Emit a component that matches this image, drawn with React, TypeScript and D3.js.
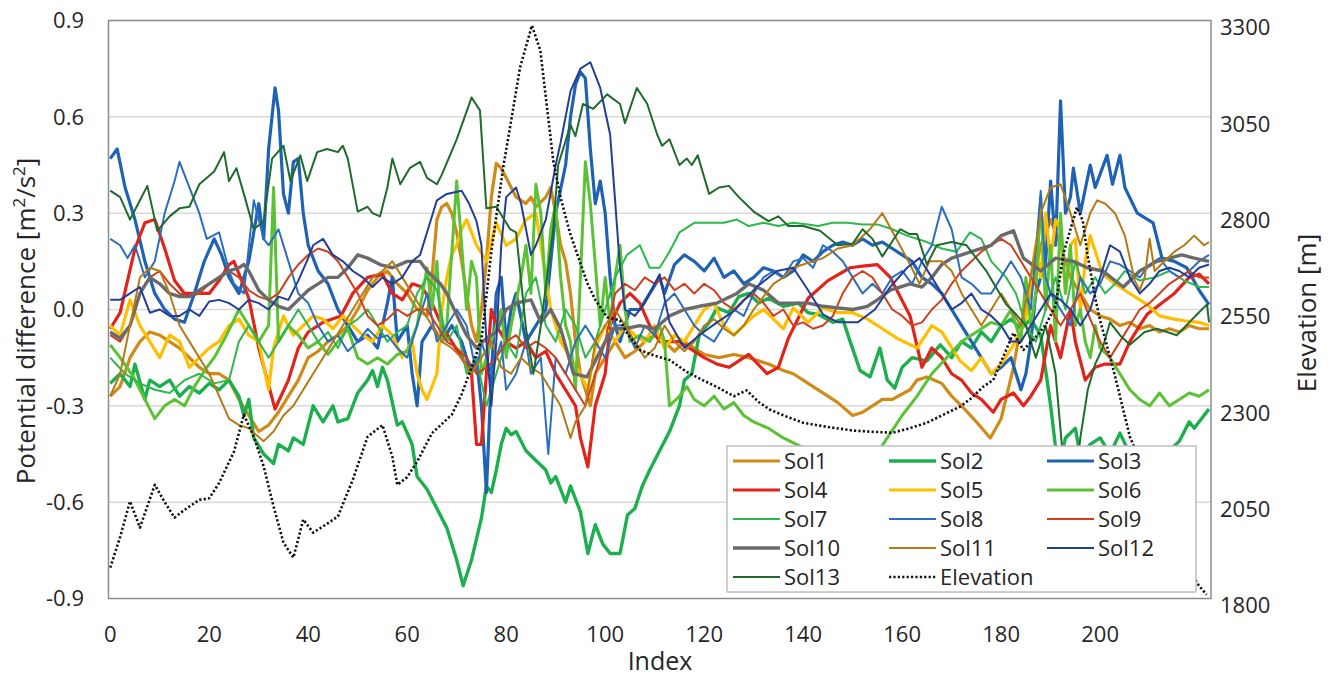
import React from "react";
import * as d3 from "d3";

type Pt = [number, number];

// Axes
const xTicks = [0, 20, 40, 60, 80, 100, 120, 140, 160, 180, 200];
const leftTicks = [-0.9, -0.6, -0.3, 0, 0.3, 0.6, 0.9];
const rightTicks = [1800, 2050, 2300, 2550, 2800, 3050, 3300];

const seriesNames = ["Sol1", "Sol2", "Sol3", "Sol4", "Sol5", "Sol6", "Sol7", "Sol8", "Sol9", "Sol10", "Sol11", "Sol12", "Sol13"];

// [index, potential difference]
const sol1: Pt[] = [[0,-0.27],[2,-0.24],[4,-0.15],[6,-0.1],[8,-0.07],[10,-0.08],[12,-0.1],[14,-0.12],[16,-0.15],[18,-0.18],[20,-0.2],[22,-0.2],[24,-0.22],[26,-0.28],[28,-0.33],[30,-0.38],[32,-0.36],[34,-0.32],[36,-0.27],[38,-0.22],[40,-0.15],[42,-0.13],[44,-0.1],[46,-0.08],[48,-0.05],[50,0],[52,0.06],[54,0.1],[56,0.12],[58,0.08],[60,0.05],[62,0],[64,-0.02],[65,0.1],[66,0.28],[67,0.32],[68,0.33],[69,0.3],[70,0.24],[71,0.15],[72,0.05],[73,-0.05],[74,-0.1],[75,0],[76,0.15],[77,0.35],[78,0.455],[79,0.44],[80,0.41],[82,0.35],[84,0.33],[85,0.35],[86,0.32],[88,0.35],[89,0.38],[90,0.3],[91,0.2],[92,0.15],[93,0.05],[94,-0.1],[95,-0.2],[96,-0.25],[97,-0.3],[98,-0.2],[100,-0.15],[102,-0.1],[104,-0.15],[106,-0.13],[108,-0.1],[110,-0.08],[112,-0.1],[114,-0.13],[116,-0.1],[118,-0.12],[120,-0.14],[123,-0.15],[126,-0.14],[129,-0.15],[131,-0.16],[133,-0.17],[136,-0.19],[138,-0.2],[140,-0.22],[142,-0.24],[145,-0.27],[147,-0.29],[150,-0.33],[152,-0.32],[154,-0.3],[156,-0.28],[158,-0.28],[161.6,-0.25],[163,-0.22],[165,-0.21],[168,-0.23],[170,-0.27],[172,-0.3],[175,-0.35],[177.8,-0.4],[180,-0.34],[182.5,-0.18],[184,-0.05],[186,0.05],[188,0.2],[190,0.28],[192,0.2],[194,0.1],[196,0.05],[198,0],[200,-0.02],[202,-0.03],[204,-0.05],[206,-0.04],[208,-0.06],[210,-0.05],[212,-0.07],[214,-0.06],[216,-0.07],[218,-0.05],[220,-0.06],[222,-0.06]];

const sol2: Pt[] = [[0,-0.23],[2,-0.2],[4,-0.24],[5,-0.17],[7,-0.28],[8,-0.22],[10,-0.24],[12,-0.22],[14,-0.27],[16,-0.24],[18,-0.26],[20,-0.23],[22,-0.25],[24,-0.22],[26,-0.27],[27,-0.33],[28,-0.28],[29,-0.4],[31,-0.45],[33,-0.48],[34,-0.42],[36,-0.44],[37,-0.4],[39,-0.42],[40,-0.36],[41,-0.3],[43,-0.35],[45,-0.3],[46,-0.35],[48,-0.34],[50,-0.26],[52,-0.22],[53,-0.19],[54,-0.24],[55,-0.18],[56,-0.22],[58,-0.36],[59,-0.35],[61,-0.42],[62,-0.52],[64,-0.56],[66,-0.62],[68,-0.68],[70,-0.78],[71.3,-0.86],[73,-0.78],[75,-0.65],[76,-0.55],[77,-0.57],[78,-0.5],[79,-0.42],[80,-0.37],[81,-0.39],[82,-0.38],[84,-0.44],[86,-0.47],[88,-0.5],[89,-0.54],[90,-0.52],[92,-0.6],[93,-0.55],[95,-0.63],[96.5,-0.76],[98,-0.67],[99.5,-0.73],[101,-0.76],[103,-0.76],[104.5,-0.64],[106,-0.62],[107.5,-0.55],[109,-0.5],[111,-0.44],[113,-0.38],[115,-0.3],[116,-0.22],[117.5,-0.2],[119,-0.08],[121,-0.04],[122.6,0.005],[125,-0.01],[127,0.04],[129,0.05],[131,0.02],[133,0.035],[136,0.01],[139,0.02],[141,-0.01],[143,-0.015],[146,-0.04],[148,-0.03],[149.5,-0.1],[151.5,-0.19],[153.5,-0.21],[155.5,-0.12],[157,-0.22],[158.5,-0.245],[160,-0.18],[162,-0.15],[165,-0.16],[167.7,-0.11],[170,-0.15],[172,-0.1],[174,-0.12],[176,-0.07],[178,-0.1],[180,-0.05],[182,-0.03],[184,-0.06],[186,-0.03],[188,-0.08],[190,-0.3],[191,-0.43],[192,-0.47],[193,-0.4],[195,-0.37],[196,-0.46],[198,-0.42],[200,-0.4],[202,-0.45],[204,-0.385],[206,-0.45],[208,-0.48],[210,-0.5],[212,-0.46],[214,-0.44],[216,-0.41],[218,-0.35],[219,-0.37],[222,-0.31]];

const sol3: Pt[] = [[0,0.47],[1.4,0.5],[3,0.38],[5,0.28],[7,0.15],[9,0.05],[11,0],[13,-0.03],[15,-0.04],[17,0.05],[19,0.15],[21,0.22],[22.5,0.17],[24,0.1],[26,0.05],[28,0.15],[30,0.33],[31,0.22],[32,0.5],[33.3,0.69],[34,0.62],[35,0.36],[36,0.3],[37,0.46],[38,0.47],[39,0.3],[40,0.2],[42,0.12],[44,0.08],[46,0],[48,-0.05],[50,-0.1],[52,-0.08],[54,-0.12],[56,0.02],[57,0.1],[58,-0.1],[60,-0.05],[61,-0.2],[62,-0.3],[63,-0.1],[65,-0.05],[67,-0.1],[69,-0.05],[71,-0.1],[73,-0.2],[74,-0.15],[75,-0.3],[76,-0.57],[77,-0.2],[78,0.05],[79,0.1],[80,-0.1],[81,0],[82,0.05],[84,-0.1],[86,-0.05],[88,0],[90,0.3],[92,0.45],[93,0.6],[94,0.7],[95,0.74],[96,0.72],[97,0.5],[98,0.33],[99,0.4],[100,0.3],[101,0.1],[102,-0.05],[103,-0.1],[105,0],[107,0],[109,0.05],[111,0.1],[112,0.05],[114,0.14],[116,0.17],[118,0.15],[120,0.12],[122,0.16],[124,0.1],[126,0.12],[128,0.08],[130,0.1],[132,0.13],[134,0.12],[136,0.1],[138,0.12],[140,0.17],[142,0.15],[144,0.18],[146,0.2],[148,0.21],[150,0.2],[152,0.22],[154,0.2],[156,0.21],[158,0.19],[160,0.17],[162,0.15],[164,0.1],[166,0.08],[168,0.05],[170,0],[172,-0.05],[174,-0.1],[176,-0.15],[178,-0.2],[180,-0.18],[182,-0.15],[184,-0.25],[185,-0.2],[186,-0.1],[187,0.05],[189,0.15],[190,0.4],[191,0.2],[192,0.65],[193,0.3],[194,0.35],[194.6,0.44],[196,0.3],[198,0.45],[199,0.38],[201.4,0.48],[202.5,0.39],[204,0.48],[205,0.38],[207.5,0.3],[210.7,0.27],[212.5,0.16],[215,0.15],[217.5,0.13],[220,0.06],[222,0.015]];

const sol4: Pt[] = [[0,-0.06],[2,-0.01],[5,0.19],[7,0.27],[9,0.28],[11,0.19],[13,0.09],[15,0.05],[17,0.05],[20,0.05],[22,0.09],[24,0.14],[25,0.15],[28,0.035],[30,-0.12],[33.3,-0.31],[36,-0.22],[38,-0.12],[40,-0.07],[43,-0.04],[46.6,-0.02],[49,0.05],[52,0.1],[55,0.11],[57,0.05],[59,0.03],[61,0.08],[63,0.07],[65,0.02],[67,-0.05],[69,-0.1],[71,-0.15],[73,-0.2],[74,-0.42],[75,-0.42],[76,-0.2],[77,0],[78,-0.05],[80,-0.1],[82,-0.12],[84,-0.1],[86,-0.15],[88,-0.13],[90,-0.2],[92,-0.25],[94,-0.3],[95,-0.4],[96.5,-0.49],[98,-0.3],[100,-0.2],[101,-0.05],[103,0.02],[105,0.05],[107,0.02],[109,-0.05],[111,-0.1],[113,-0.1],[115,-0.1],[117,-0.12],[120,-0.15],[122.6,-0.17],[125,-0.18],[127,-0.16],[129,-0.14],[132.7,-0.2],[135,-0.18],[137,-0.09],[141,0.035],[145,0.09],[149.5,0.13],[152,0.135],[155,0.14],[157.6,0.1],[161.6,-0.02],[164,-0.18],[166,-0.12],[168,-0.15],[170,-0.2],[172,-0.22],[174,-0.26],[176,-0.28],[178.4,-0.32],[180,-0.28],[182.5,-0.26],[184.5,-0.3],[186,-0.27],[188,-0.22],[190,-0.05],[192,-0.15],[194,0],[195,-0.1],[197,-0.22],[199,-0.18],[201,-0.17],[204,-0.17],[206,-0.1],[208,-0.05],[209.5,-0.015],[212,0.015],[215,0.05],[218,0.1],[220,0.11],[222,0.08]];

const sol5: Pt[] = [[0,-0.05],[2,-0.08],[4,0.03],[6,-0.05],[8,-0.1],[10,-0.15],[12,-0.08],[14,-0.1],[16,-0.18],[18,-0.15],[20,-0.12],[22,-0.1],[24,-0.05],[26,-0.03],[28,-0.08],[30,-0.1],[32,-0.25],[33,-0.12],[35,-0.02],[37,-0.08],[39,-0.05],[41,-0.02],[43,-0.03],[45,-0.06],[47,-0.02],[49,-0.05],[51,-0.08],[53,-0.1],[55,-0.05],[57,-0.08],[59,-0.15],[61,-0.1],[62,-0.2],[63,-0.25],[64,-0.28],[66,-0.2],[67,0],[68,0.1],[69,0.17],[70,0.2],[71,0.25],[72,0.28],[74,0.2],[76,0.15],[78,0.27],[80,0.2],[82,0.22],[84,0.28],[86,0.3],[88,0.1],[89,0],[91,-0.1],[93,-0.15],[95,-0.2],[96.5,-0.25],[98,-0.12],[100,-0.05],[102,-0.1],[104,-0.05],[106,-0.08],[108,-0.1],[110,-0.05],[112,-0.12],[114,-0.08],[116,-0.1],[118,-0.05],[120,0],[122,0.02],[124,-0.05],[126,-0.08],[128,-0.05],[130,-0.02],[132,0],[134,-0.03],[136,-0.06],[138,0.005],[141,-0.04],[144,0.005],[147,-0.01],[150,-0.01],[153,-0.03],[156,-0.06],[159,-0.09],[163,-0.12],[166,-0.05],[168,-0.07],[171.7,-0.16],[174,-0.19],[176,-0.15],[178,-0.2],[180,-0.17],[182.5,-0.11],[185,-0.03],[186,0.1],[187,0.2],[188,0.1],[189,0.3],[190,0.15],[191,0.28],[192,0.25],[193,0.05],[194,0.2],[195,0.22],[196,0],[197,0.15],[198,0.23],[200.5,0.11],[203,0.08],[205,0.06],[209.5,0.015],[212,-0.02],[215,-0.03],[217,-0.035],[220,-0.04],[222,-0.05]];

const sol6: Pt[] = [[0,-0.11],[2,-0.15],[4.7,-0.21],[6,-0.25],[9,-0.34],[11,-0.3],[13,-0.28],[15,-0.3],[17,-0.24],[19.5,-0.18],[21,-0.15],[23.5,-0.08],[26,0],[28,-0.05],[30,-0.1],[32,-0.05],[33,0.38],[34,-0.1],[36,-0.05],[38,-0.08],[40,-0.12],[42,-0.1],[44,-0.14],[46,-0.1],[48,-0.06],[50,-0.15],[52,-0.17],[54,-0.15],[56,-0.17],[58,-0.14],[60,-0.13],[62,-0.05],[64,0.13],[65,0],[66,0.15],[67,-0.1],[68,-0.05],[70,0.4],[71,0.2],[72,0],[73,0.15],[74,0.1],[75,-0.2],[77,-0.1],[79,0],[80,-0.15],[81,-0.05],[83,0.1],[84,0.2],[85,0.05],[86,0.39],[87,0.3],[88,0.05],[89,0.25],[90,0.33],[91,0.1],[92,-0.05],[93,-0.1],[94,-0.25],[95,0.1],[96,0.46],[97,0.33],[98,0.14],[99,-0.05],[100,0.1],[101,-0.05],[102,0.1],[103,0.2],[104,0],[105,-0.1],[107,-0.08],[109,-0.1],[111,-0.05],[112,-0.1],[113,-0.3],[115,-0.27],[116.5,-0.24],[118,-0.28],[120,-0.3],[122,-0.27],[124,-0.31],[126,-0.29],[128,-0.33],[130,-0.35],[133,-0.37],[136,-0.4],[140,-0.43],[143,-0.45],[147,-0.52],[151,-0.55],[154,-0.47],[157,-0.4],[160,-0.33],[163,-0.27],[166,-0.2],[169,-0.15],[172,-0.1],[175,-0.07],[178,-0.04],[180,-0.05],[182,0],[184,-0.1],[185,0.1],[186,-0.05],[187,0.05],[188,0.35],[189,0],[190,0.2],[191,-0.1],[192,0.3],[193,0.05],[194,0.2],[195,-0.05],[196,0],[197,-0.1],[198,-0.15],[199,-0.05],[200,-0.12],[202,-0.15],[204,-0.2],[206,-0.25],[208,-0.28],[210,-0.3],[212,-0.26],[214,-0.3],[216,-0.28],[218,-0.26],[220,-0.27],[222,-0.25]];

const sol7: Pt[] = [[0,-0.15],[3,-0.2],[6,-0.23],[9,-0.25],[12,-0.26],[15,-0.22],[18,-0.2],[21,-0.23],[24,-0.22],[26,-0.1],[28,-0.05],[30,-0.1],[32,-0.15],[34,-0.1],[36,-0.05],[38,0],[40,-0.05],[42,-0.1],[44,-0.07],[46,-0.12],[48,-0.05],[50,-0.03],[52,0],[54,-0.05],[56,-0.1],[58,-0.07],[60,-0.05],[62,0.05],[64,0.1],[66,0.06],[68,-0.1],[70,-0.05],[72,-0.2],[74,-0.15],[76,-0.3],[78,-0.2],[80,-0.1],[82,-0.15],[84,0.05],[86,0.1],[88,-0.05],[90,-0.1],[92,0],[94,-0.05],[96,-0.15],[98,-0.1],[100,0],[102,0.1],[104.4,0.17],[107,0.2],[109,0.13],[111,0.13],[113,0.18],[115,0.24],[118,0.27],[121,0.27],[124,0.27],[126.6,0.28],[129,0.26],[132,0.27],[135,0.26],[138,0.27],[141,0.265],[143,0.26],[146,0.27],[149,0.27],[152,0.265],[155,0.265],[158,0.25],[161,0.23],[165,0.21],[168,0.19],[171,0.18],[173.7,0.24],[176,0.22],[178,0.15],[181,0.1],[183,0.05],[185,-0.05],[187,-0.1],[189,0],[191,0.1],[193,0],[195,0.15],[197,0.05],[199,0.1],[201,0.05],[203,0.08],[205,0.12],[208,0.09],[211,0.1],[214,0.12],[217,0.09],[220,0.07],[222,0.07]];

const sol8: Pt[] = [[0,0.22],[2,0.2],[3.5,0.16],[5,0.2],[7,0.1],[9,0.15],[11,0.3],[13,0.4],[14,0.46],[16.5,0.36],[18,0.3],[19.5,0.22],[22,0.24],[24,0.12],[25,0.08],[27,0.05],[29,0.34],[31,0.22],[32,0.2],[34,0.25],[36,0.15],[38,0.05],[40,0.02],[42,-0.05],[44,-0.1],[46,-0.08],[48,-0.13],[50,-0.1],[52,-0.06],[54,-0.09],[56,-0.08],[58,-0.12],[60,-0.15],[62,-0.05],[64,0.05],[66,-0.1],[68,-0.05],[70,0],[72,-0.05],[74,-0.2],[75,-0.1],[77,-0.2],[79,-0.1],[80,-0.25],[82,-0.2],[84,-0.1],[85,-0.2],[87,-0.15],[88.5,-0.45],[90,-0.15],[92,-0.2],[94,-0.1],[96,-0.05],[98,-0.1],[100,-0.15],[102,-0.05],[104,-0.05],[106,-0.12],[108,-0.05],[110,-0.08],[112,0.02],[114,0.05],[116,0],[118,-0.05],[120,-0.08],[122,-0.1],[124,-0.05],[126,0],[128,-0.02],[130,0.05],[132,0.1],[134,0.12],[136,0.1],[138,0.15],[140,0.16],[142,0.13],[144,0.2],[146,0.18],[148,0.15],[150,0.1],[152,0.05],[154,0.08],[156,0.05],[158,0.1],[160,0.12],[162,0.08],[164,0.15],[166,0.2],[168,0.32],[170,0.25],[172,0.1],[174,0.08],[176,0.05],[178,0.05],[180,0.1],[182,0.15],[184,0.1],[186,0],[188,0.37],[189,0.1],[190,0.05],[192,0],[194,-0.05],[196,0.1],[198,0.05],[200,0.08],[202,0.15],[204,0.14],[206,0.12],[208,0.1],[210,0.14],[212,0.16],[214,0.12],[216,0.1],[218,0.12],[220,0.15],[222,0.17]];

const sol9: Pt[] = [[0,-0.08],[2,-0.1],[4,-0.05],[6,0.05],[8,0.1],[10,0.12],[12,0.08],[14,0.05],[16,0.04],[18,0.05],[20,0.08],[22,0.1],[24,0.12],[26,0.1],[28,0.06],[30,0.04],[32,0.03],[34,0.05],[36,0.1],[38,0.14],[40,0.17],[42,0.19],[44,0.18],[46,0.15],[48,0.1],[50,0.05],[52,-0.02],[54,-0.05],[56,-0.03],[58,0],[60,-0.02],[62,0],[64,0],[66,-0.05],[68,-0.1],[70,-0.12],[72,-0.15],[74,-0.2],[76,-0.18],[78,-0.15],[80,-0.1],[82,-0.08],[84,-0.12],[86,-0.1],[88,-0.12],[90,-0.15],[92,-0.2],[94,-0.25],[96,-0.3],[98,-0.2],[100,-0.1],[102,0.05],[104,0.08],[106,0.06],[108,0.1],[110,0.08],[112,0.1],[114,0.06],[116,0.08],[118,0.05],[120,0.08],[122,0.06],[124,0.02],[126,0],[128,0.03],[130,0.05],[132,0.02],[134,-0.02],[136,0],[138,-0.05],[140,-0.04],[142,-0.06],[144,-0.05],[146,-0.02],[148,0.05],[150,0.1],[152,0.12],[154,0.1],[156,0.05],[158,0],[160,-0.02],[162,-0.05],[164,-0.04],[166,0],[168,0.03],[170,0.08],[172,0.12],[174,0.15],[176,0.18],[178,0.2],[180,0.22],[182,0.2],[184,0.15],[186,0.1],[188,0.05],[190,0],[192,-0.05],[194,0],[196,0.05],[198,-0.03],[200,-0.1],[202,-0.15],[204,-0.1],[206,-0.05],[208,0],[210,0.02],[212,0.05],[214,0.08],[216,0.1],[218,0.12],[220,0.1],[222,0.1]];

const sol10: Pt[] = [[0,-0.07],[2,-0.09],[4,-0.05],[6,0.05],[8,0.1],[10,0.08],[12,0.05],[14,0.04],[16,0.04],[18,0.06],[20,0.08],[22,0.1],[24,0.12],[26,0.13],[27,0.14],[28,0.12],[30,0.06],[32,0.03],[34,0.01],[36,0],[38,0.03],[40,0.06],[42,0.08],[44,0.1],[46,0.1],[48,0.13],[50,0.17],[52,0.16],[54.5,0.14],[57,0.13],[60,0.15],[62.6,0.15],[64,0.12],[66.7,0.08],[68,0.05],[70.7,-0.04],[72,-0.08],[74,-0.12],[76,-0.09],[78,-0.07],[80,0],[82,0.02],[85,0.03],[87,-0.04],[89,0],[91,-0.06],[93.6,-0.2],[96.3,-0.21],[98,-0.16],[100,-0.1],[101.6,-0.06],[104,-0.06],[107,-0.05],[110,-0.06],[113,-0.02],[116,0],[119,0.01],[122.6,0.02],[126.6,0.05],[129,0.08],[132,0.06],[135,0.02],[138,0.02],[141,0.02],[144,0.01],[147,0.005],[150,0],[153,0.01],[155,0.03],[157.6,0.06],[161.6,0.08],[164,0.07],[166,0.1],[168,0.14],[170,0.16],[172,0.17],[174,0.18],[176,0.19],[178,0.2],[180,0.23],[182.5,0.245],[184.5,0.16],[188,0.12],[191,0.16],[194.6,0.15],[197.4,0.13],[200.5,0.12],[204.7,0.07],[208,0.12],[211.5,0.15],[214,0.16],[216.5,0.17],[219,0.16],[222,0.15]];

const sol11: Pt[] = [[0,-0.27],[2,-0.2],[4,-0.05],[6,0.1],[8,0.13],[10,0.12],[12,0.05],[14,-0.05],[16,-0.1],[18,-0.15],[20,-0.2],[22,-0.27],[24,-0.34],[26,-0.36],[28,-0.37],[31,-0.41],[33,-0.38],[35,-0.33],[37,-0.3],[39,-0.25],[41,-0.2],[43,-0.15],[45,-0.1],[47,-0.05],[49,0],[51,0.05],[53,0.1],[55,0.12],[57,0.15],[59,0.1],[61,0.05],[63,0],[65,-0.05],[67,-0.1],[69,-0.12],[71,-0.15],[73,-0.2],[75,-0.15],[77,-0.1],[79,-0.18],[81,-0.2],[83,-0.15],[85,-0.18],[87,-0.2],[89,-0.25],[91,-0.3],[93,-0.4],[94,-0.35],[96,-0.3],[98,-0.1],[100,-0.05],[102,0],[104,-0.05],[106,-0.1],[108,-0.15],[110,-0.12],[112,-0.05],[114,-0.1],[116,-0.13],[118,-0.1],[120,-0.05],[122,-0.03],[124,-0.06],[126,-0.08],[128,-0.05],[130,0],[132,0.04],[134,0.08],[136,0.1],[138,0.13],[140,0.14],[144,0.16],[147,0.19],[150,0.2],[153.5,0.25],[156,0.3],[158.5,0.23],[161.6,0.14],[163.5,0.08],[165.5,0.15],[168,0.15],[170,0.12],[172,0.05],[174,0],[176,-0.05],[178,0],[180,0.05],[182,0],[184,-0.05],[186,0.1],[188,0.3],[190,0.38],[192,0.39],[194,0.3],[196,0.2],[198,0.3],[199.4,0.34],[201,0.33],[203,0.3],[205,0.23],[207,0.09],[208,0.06],[209,0.1],[210,0.22],[211,0.12],[213,0.15],[215,0.18],[217,0.2],[219,0.23],[221,0.2],[222,0.21]];

const sol12: Pt[] = [[0,0.03],[2,0.03],[4,0.05],[6,0.07],[8,-0.01],[10,0],[12,-0.02],[14,-0.02],[16,0],[18,-0.02],[20,0.025],[22,0.03],[24,0.02],[26,0],[28,0.03],[30,0.02],[32,0],[34,0.04],[36,0.03],[38,0.09],[40,0.16],[41,0.2],[43,0.22],[45,0.17],[47,0.15],[49,0.12],[51,0.1],[53,0.07],[55,0.1],[57,0.08],[59,0.1],[61,0.15],[62.6,0.17],[64,0.24],[66,0.34],[68,0.36],[71,0.37],[72.5,0.33],[74,0.275],[75,0.2],[76,-0.1],[77,-0.3],[78,-0.1],[79,0.2],[80,0.35],[82,0.38],[83,0.33],[85,0.17],[86,0.2],[88,0.28],[90,0.45],[91,0.52],[93,0.68],[95,0.75],[97,0.77],[99,0.69],[101,0.545],[102,0.34],[103,0.13],[104,0],[106,-0.02],[108,0.02],[111,0.11],[113,-0.04],[116,-0.12],[119,-0.08],[122.6,-0.04],[126,-0.005],[130.6,0.07],[134.7,0.12],[138,0.13],[141,0.06],[144,-0.015],[147,-0.04],[151,-0.04],[154.5,0],[157.6,0.07],[161,0.13],[163.5,0.16],[166,0.1],[168,0.05],[170,0],[172,0.02],[174,0.05],[176,0],[178,-0.02],[180,-0.05],[182,-0.1],[184,-0.1],[186,-0.05],[188,0],[190,0.05],[192,0.03],[194,0],[196,-0.05],[198,0],[200,0.1],[202,0.2],[204,0.18],[206,0.1],[208,0.05],[210,0.08],[212,0.12],[214,0.13],[216,0.12],[218,0.1],[220,0.13],[222,0.14]];

const sol13: Pt[] = [[0,0.37],[2,0.35],[4,0.28],[6,0.34],[7.5,0.385],[9.5,0.245],[12,0.29],[14,0.315],[16,0.32],[18,0.39],[21,0.43],[23,0.49],[24,0.4],[25.5,0.44],[27,0.36],[29,0.25],[31,0.275],[32.7,0.47],[35,0.51],[36.4,0.4],[38.4,0.48],[39.8,0.4],[41.8,0.49],[43.8,0.5],[46,0.49],[47,0.51],[48,0.47],[50,0.305],[52,0.32],[53,0.3],[54.5,0.29],[56,0.38],[57,0.47],[58.6,0.39],[60.5,0.44],[62.6,0.46],[64,0.41],[66,0.39],[67,0.42],[70,0.53],[73,0.66],[74.7,0.62],[76,0.315],[78,0.32],[80.8,0.25],[82,0.24],[84,-0.06],[85.5,-0.2],[87,-0.05],[89.5,0.25],[90.5,0.45],[93,0.575],[94,0.54],[95.5,0.64],[97.6,0.625],[100.4,0.67],[103,0.64],[104,0.58],[106.4,0.69],[108.5,0.64],[110.5,0.545],[111.5,0.51],[113,0.53],[115,0.45],[116.5,0.47],[117.5,0.45],[118.7,0.48],[121,0.36],[123,0.38],[125,0.385],[127,0.35],[130,0.305],[133,0.275],[135,0.29],[137,0.26],[140,0.26],[143.4,0.245],[147,0.2],[150,0.205],[152,0.25],[154,0.22],[156,0.165],[159.6,0.25],[161.5,0.235],[163,0.235],[165,0.14],[167,0.2],[170,0.21],[173,0.2],[177,0.12],[181,0.016],[183,-0.015],[185,-0.05],[187,-0.15],[189,-0.05],[191,-0.2],[193,-0.55],[194.5,-0.6],[196,-0.4],[197.5,-0.25],[199,-0.17],[200.5,-0.12],[202,-0.04],[204,-0.08],[206,-0.11],[209,-0.07],[211.5,-0.06],[215.5,-0.08],[218,-0.04],[219.6,-0.015],[221.6,0.016],[222,-0.04]];

// [index, elevation m], right axis
const elevation: Pt[] = [[0,1880],[2,1960],[4,2052],[6,1984],[9,2095],[11,2050],[13,2010],[15,2030],[18,2056],[20,2060],[22,2100],[25,2181],[27,2277],[29,2220],[31,2143],[33,2039],[35,1945],[37,1906],[39,2005],[41,1971],[43,1987],[46,2013],[49,2108],[52,2220],[55,2250],[57,2168],[58,2095],[60,2115],[62,2155],[65,2229],[69,2277],[71,2330],[73,2400],[75,2471],[77,2700],[79.4,2919],[81,3040],[82.8,3178],[85.2,3287],[86.9,3222],[89.5,2937],[91,2840],[92.9,2748],[96.4,2618],[98,2575],[100.4,2530],[103,2522],[104.4,2489],[107,2445],[110,2430],[113,2419],[116.5,2388],[120,2365],[123,2346],[126,2325],[128.6,2340],[131,2310],[133.3,2290],[137,2270],[140,2256],[145,2245],[150,2236],[153.5,2233],[158,2230],[161,2240],[165,2256],[168,2275],[171.7,2298],[174,2320],[176.4,2350],[178.4,2367],[181,2445],[182.5,2489],[184.5,2445],[187,2479],[189,2510],[191,2560],[192.6,2696],[195.3,2815],[196.5,2780],[197.4,2696],[199,2580],[200,2522],[202.7,2393],[206,2220],[209,2130],[212,2050],[215,1980],[218,1890],[219.5,1841],[221.5,1810]];

const seriesData: Pt[][] = [sol1, sol2, sol3, sol4, sol5, sol6, sol7, sol8, sol9, sol10, sol11, sol12, sol13];

const STYLE: Record<string, { color: string; width: number }> = {
  Sol1: { color: "#D08B17", width: 3.2 },
  Sol2: { color: "#1DAF4E", width: 3.4 },
  Sol3: { color: "#1F62B4", width: 3.2 },
  Sol4: { color: "#E2231A", width: 3.2 },
  Sol5: { color: "#FFBF00", width: 3.2 },
  Sol6: { color: "#5CC235", width: 3 },
  Sol7: { color: "#2DB84C", width: 2 },
  Sol8: { color: "#2C6EBE", width: 2 },
  Sol9: { color: "#CF3F1E", width: 2 },
  Sol10: { color: "#6A6A6A", width: 3.4 },
  Sol11: { color: "#B57A16", width: 2 },
  Sol12: { color: "#223F95", width: 2 },
  Sol13: { color: "#1E6B2C", width: 2 },
};

// Geometry
const W = 1334;
const H = 678;
const X0 = 108.5;
const X1 = 1211;
const Y0 = 20.5;
const Y1 = 598.5;
const FONT = "'Open Sans', 'Noto Sans', sans-serif";
const TEXT = "#262626";

export default function App() {
  const x = d3.scaleLinear().domain([-0.35, 222.4]).range([X0, X1]);
  const yL = d3.scaleLinear().domain([-0.9, 0.9]).range([Y1, Y0]);
  const yR = d3.scaleLinear().domain([1800, 3300]).range([Y1, Y0]);

  const lineL = d3.line<Pt>().x((d) => x(d[0])).y((d) => yL(d[1]));
  const lineR = d3.line<Pt>().x((d) => x(d[0])).y((d) => yR(d[1]));

  const legendItems = [...seriesNames, "Elevation"];
  const legendX = 727;
  const legendY = 446;
  const colX = [733, 889, 1047];
  const rowY = [461, 490, 519, 548, 577];

  return (
    <svg width={W} height={H} style={{ position: "absolute", left: 0, top: 0, background: "#fff" }}>
      <defs>
        <clipPath id="plot">
          <rect x={X0} y={Y0 - 2} width={X1 - X0} height={Y1 - Y0 + 4} />
        </clipPath>
      </defs>
      <rect x={0} y={0} width={W} height={H} fill="#fff" />

      {/* gridlines */}
      {leftTicks.slice(1, -1).map((t) => (
        <line key={t} x1={X0} x2={X1} y1={yL(t)} y2={yL(t)} stroke="#d9d9d9" strokeWidth={1.5} />
      ))}

      {/* series */}
      <g clipPath="url(#plot)" fill="none" strokeLinejoin="round">
        {seriesData.map((d, i) => (
          <path
            key={seriesNames[i]}
            d={lineL(d) || ""}
            stroke={STYLE[seriesNames[i]].color}
            strokeWidth={STYLE[seriesNames[i]].width}
          />
        ))}
        <path d={lineR(elevation) || ""} stroke="#111" strokeWidth={2.6} strokeDasharray="2.2 2.2" />
      </g>

      {/* plot border */}
      <rect x={X0} y={Y0} width={X1 - X0} height={Y1 - Y0} fill="none" stroke="#8c8c8c" strokeWidth={1.5} />

      {/* left ticks */}
      {leftTicks.map((t) => (
        <text key={t} x={84} y={yL(t)} dy="0.35em" textAnchor="end" fontFamily={FONT} fontSize={22} fill={TEXT}>
          {t.toFixed(1)}
        </text>
      ))}
      {/* right ticks */}
      {rightTicks.map((t) => (
        <text key={t} x={1220} y={yR(t) + 7} dy="0.35em" textAnchor="start" fontFamily={FONT} fontSize={22} fill={TEXT}>
          {t}
        </text>
      ))}
      {/* x ticks */}
      {xTicks.map((t) => (
        <text key={t} x={x(t)} y={642} textAnchor="middle" fontFamily={FONT} fontSize={22} fill={TEXT}>
          {t}
        </text>
      ))}

      {/* axis titles */}
      <text x={660} y={670} textAnchor="middle" fontFamily={FONT} fontSize={25} fill={TEXT}>
        Index
      </text>
      <text
        transform={`translate(35,321) rotate(-90)`}
        textAnchor="middle"
        fontFamily={FONT}
        fontSize={26}
        fill={TEXT}
      >
        Potential difference [m<tspan fontSize={17} dy={-10}>2</tspan>
        <tspan dy={10}>/s</tspan>
        <tspan fontSize={17} dy={-10}>2</tspan>
        <tspan dy={10}>]</tspan>
      </text>
      <text
        transform={`translate(1316,313) rotate(-90)`}
        textAnchor="middle"
        fontFamily={FONT}
        fontSize={26}
        fill={TEXT}
      >
        Elevation [m]
      </text>

      {/* legend */}
      <rect x={legendX} y={legendY} width={469} height={146} fill="#fff" stroke="#bfbfbf" strokeWidth={1.5} />
      {legendItems.map((name, i) => {
        const cx = colX[i % 3];
        const cy = rowY[Math.floor(i / 3)];
        const isElev = name === "Elevation";
        return (
          <g key={name}>
            <line
              x1={cx}
              x2={cx + 47}
              y1={cy}
              y2={cy}
              stroke={isElev ? "#111" : STYLE[name].color}
              strokeWidth={isElev ? 2.6 : STYLE[name].width}
              strokeDasharray={isElev ? "2.2 2.2" : undefined}
            />
            <text x={cx + 51} y={cy} dy="0.35em" fontFamily={FONT} fontSize={22} fill={TEXT}>
              {name}
            </text>
          </g>
        );
      })}
    </svg>
  );
}
